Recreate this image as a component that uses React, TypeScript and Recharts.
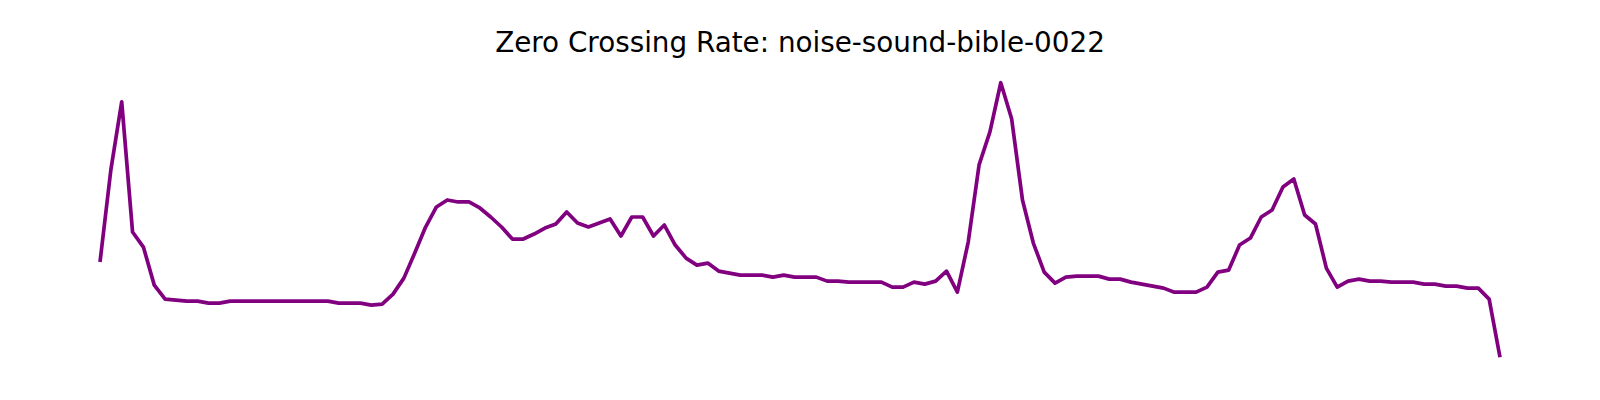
import { LineChart, Line, XAxis, YAxis } from "recharts";

// zero crossing rate per analysis frame
const zcrValues = [
  0.138, 0.23, 0.298, 0.168, 0.153, 0.115, 0.101, 0.1, 0.099, 0.099,
  0.097, 0.097, 0.099, 0.099, 0.099, 0.099, 0.099, 0.099, 0.099, 0.099,
  0.099, 0.099, 0.097, 0.097, 0.097, 0.095, 0.096, 0.106, 0.122, 0.147,
  0.173, 0.193, 0.2, 0.198, 0.198, 0.192, 0.183, 0.173, 0.161, 0.161,
  0.166, 0.172, 0.176, 0.188, 0.177, 0.173, 0.177, 0.181, 0.164, 0.183,
  0.183, 0.164, 0.175, 0.155, 0.142, 0.135, 0.137, 0.129, 0.127, 0.125,
  0.125, 0.125, 0.123, 0.125, 0.123, 0.123, 0.123, 0.119, 0.119, 0.118,
  0.118, 0.118, 0.118, 0.113, 0.113, 0.118, 0.116, 0.119, 0.129, 0.108,
  0.158, 0.235, 0.268, 0.317, 0.281, 0.2, 0.157, 0.128, 0.117, 0.123,
  0.124, 0.124, 0.124, 0.121, 0.121, 0.118, 0.116, 0.114, 0.112, 0.108,
  0.108, 0.108, 0.113, 0.128, 0.13, 0.155, 0.162, 0.183, 0.19, 0.213,
  0.221, 0.185, 0.176, 0.132, 0.113, 0.119, 0.121, 0.119, 0.119, 0.118,
  0.118, 0.118, 0.116, 0.116, 0.114, 0.114, 0.112, 0.112, 0.101, 0.043,
];

const frames = zcrValues.map((_, i) => i);

const title = "Zero Crossing Rate: noise-sound-bible-0022";

const chartData = frames.map((frame, i) => ({ frame, zcr: zcrValues[i] }));

// matplotlib-style 5% margins around the data
const lo = Math.min(...zcrValues);
const hi = Math.max(...zcrValues);
const pad = (hi - lo) * 0.05;

export default function App() {
  return (
    <div style={{ position: "relative", width: 1600, height: 400 }}>
      <style>{`body { margin: 0; }`}</style>
      <div
        style={{
          position: "absolute",
          top: 29,
          left: 0,
          width: 1600,
          textAlign: "center",
          fontFamily: "'DejaVu Sans', sans-serif",
          fontSize: 27.8,
          lineHeight: "28px",
          color: "#000",
        }}
      >
        {title}
      </div>
      <LineChart
        width={1600}
        height={400}
        data={chartData}
        margin={{ top: 69, right: 100, bottom: 29, left: 100 }}
      >
        <XAxis
          dataKey="frame"
          type="number"
          domain={[0, frames.length - 1]}
          hide
        />
        <YAxis type="number" domain={[lo - pad, hi + pad]} hide />
        <Line
          type="linear"
          dataKey="zcr"
          stroke="#800080"
          strokeWidth={3.7}
          strokeLinejoin="round"
          dot={false}
          activeDot={false}
          isAnimationActive={false}
        />
      </LineChart>
    </div>
  );
}
